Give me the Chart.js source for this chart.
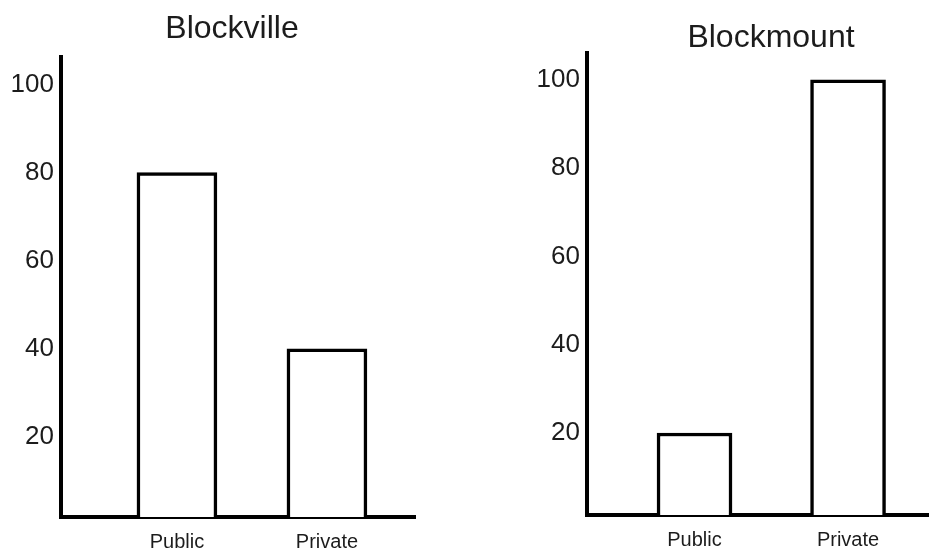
<!DOCTYPE html>
<html><head><meta charset="utf-8">
<script src="https://cdn.jsdelivr.net/npm/chart.js@4/dist/chart.umd.min.js"></script>
<style>
html,body{margin:0;padding:0;background:#fff;overflow:hidden;width:929px;height:552px;}
canvas{position:absolute;top:0;}
#c1{left:0;}
#c2{left:526px;}
</style></head><body>
<canvas id="c1" width="464" height="552"></canvas>
<canvas id="c2" width="490" height="552"></canvas>
<script>
const categories = ['Public', 'Private'];
const blockvilleTitle = 'Blockville';
const blockmountTitle = 'Blockmount';
const blockvilleValues = [80, 40];
const blockmountValues = [20, 100];
const yTickValues = [20, 40, 60, 80, 100];

const FONT = "'Liberation Sans', Arial, sans-serif";
const TEXT = '#1c1c1c';

function makeChart(id, title, values, L) {
  const scales = {
    x: {
      type: 'linear', min: L.xMin, max: L.xMax, offset: false, bounds: 'data',
      grid: { display: false, drawTicks: false, offset: false },
      border: { display: true, color: '#000', width: 4 },
      afterBuildTicks: s => { s.ticks = categories.map((c, i) => ({ value: i + 1 })); },
      afterFit: s => { s.height = L.xAxisHeight; },
      ticks: {
        padding: L.xPad, color: TEXT,
        font: { family: FONT, size: 20 },
        maxRotation: 0, autoSkip: false,
        callback: v => categories[Math.round(v) - 1]
      }
    },
    y: {
      min: L.yMin, max: L.yMax,
      grid: { display: false, drawTicks: false },
      border: { display: true, color: '#000', width: 4 },
      afterBuildTicks: s => { s.ticks = yTickValues.map(v => ({ value: v })); },
      afterFit: s => { s.width = L.yAxisWidth; },
      ticks: { padding: 7, color: TEXT, font: { family: FONT, size: 26 }, callback: v => String(v) }
    }
  };
  if (L.dummyRight) {
    scales.pad = {
      type: 'linear', position: 'right', display: true,
      grid: { display: false, drawTicks: false },
      border: { display: false },
      ticks: { display: false },
      afterFit: s => { s.width = L.dummyRight; }
    };
  }
  return new Chart(document.getElementById(id), {
    type: 'bar',
    data: {
      datasets: [{
        data: values.map((v, i) => ({ x: i + 1, y: v })),
        backgroundColor: '#fff',
        borderColor: '#000',
        borderWidth: 3.5,
        borderSkipped: false,
        barThickness: L.barThickness
      }]
    },
    options: {
      responsive: false,
      animation: false,
      devicePixelRatio: 1,
      layout: { padding: 0 },
      plugins: {
        legend: { display: false },
        tooltip: { enabled: false },
        title: {
          display: true, text: title, color: TEXT,
          font: { family: FONT, size: 32, weight: 'normal', lineHeight: 0.9 },
          padding: { top: L.titleTop, bottom: L.titleBottom }
        }
      },
      scales
    }
  });
}

makeChart('c1', blockvilleTitle, blockvilleValues, {
  xMin: 0.227, xMax: 2.587, yMin: 1.84, yMax: 106.2,
  barThickness: 80, titleTop: 15, titleBottom: 13.2,
  xAxisHeight: 35, xPad: 13, yAxisWidth: 61, dummyRight: 49
});
makeChart('c2', blockmountTitle, blockmountValues, {
  xMin: 0.2997, xMax: 3.094, yMin: 1.43, yMax: 106.1,
  barThickness: 75, titleTop: 24, titleBottom: 0.2,
  xAxisHeight: 37, xPad: 13, yAxisWidth: 61, dummyRight: 0
});
</script>
</body></html>
